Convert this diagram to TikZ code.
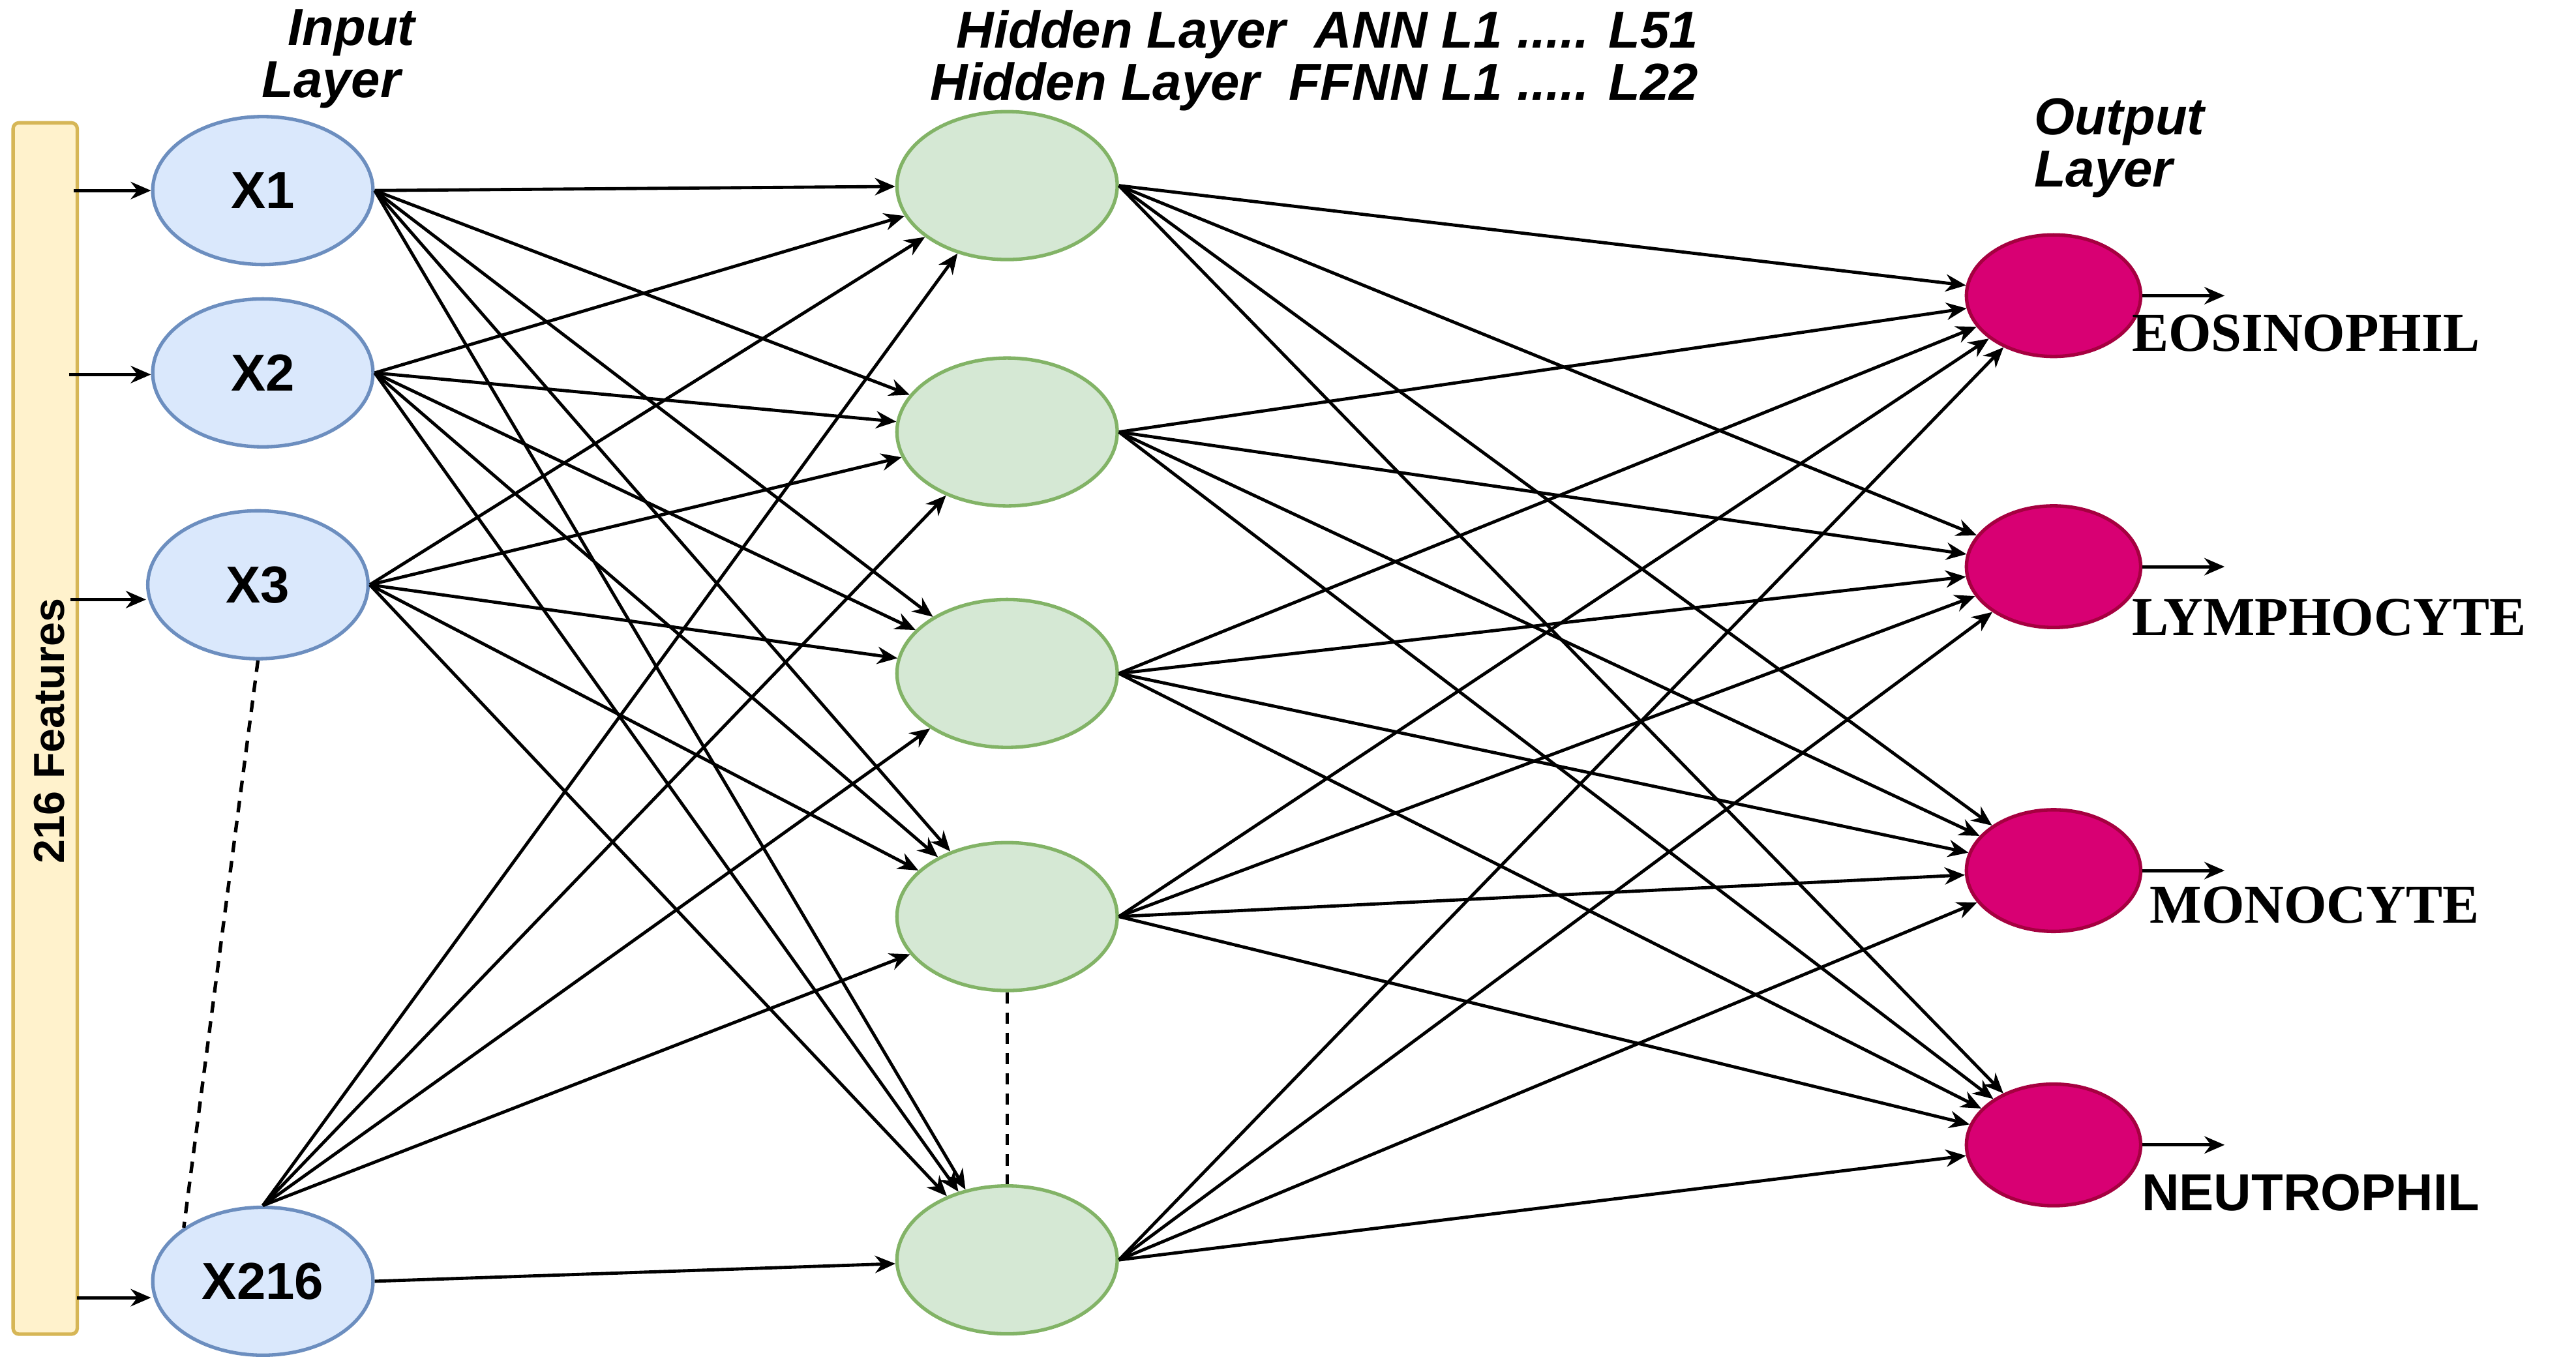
\documentclass[tikz,border=0pt]{standalone}
\usepackage{fontspec}
\setmainfont{Liberation Sans}
\newfontfamily\serifb{Liberation Serif}
\usetikzlibrary{shapes.geometric,arrows.meta}
\definecolor{inF}{HTML}{DAE8FC}\definecolor{inD}{HTML}{6C8EBF}
\definecolor{hF}{HTML}{D5E8D4}\definecolor{hD}{HTML}{82B366}
\definecolor{oF}{HTML}{D80073}\definecolor{oD}{HTML}{A50040}
\definecolor{bF}{HTML}{FFF2CC}\definecolor{bD}{HTML}{D6B656}
\tikzset{
 innode/.style={ellipse,draw=inD,fill=inF,line width=0.6pt,minimum width=1.34cm,minimum height=0.9cm,inner sep=0pt,font=\bfseries\fontsize{9}{10}\selectfont},
 hnode/.style={ellipse,draw=hD,fill=hF,line width=0.6pt,minimum width=1.34cm,minimum height=0.9cm,inner sep=0pt},
 onode/.style={ellipse,draw=oD,fill=oF,line width=0.6pt,minimum width=1.06cm,minimum height=0.74cm,inner sep=0pt},
 conn/.style={-{Stealth[length=3.5pt,width=3pt]},line width=0.55pt},
 ttl/.style={font=\bfseries\itshape\fontsize{9}{9}\selectfont,align=left,inner sep=0pt},
 olab/.style={font=\serifb\bfseries\fontsize{9.5}{11}\selectfont,anchor=west,inner sep=0pt},
}
\begin{document}
\begin{tikzpicture}[x=0.01cm,y=-0.01cm]
\useasboundingbox[fill=white] (0,0) rectangle (1568,834);
\node[draw=bD,fill=bF,line width=0.6pt,minimum width=0.39cm,minimum height=7.37cm,inner sep=0pt,rounded corners=1pt] (bar) at (27.5,443.5) {};
\node[rotate=90,font=\bfseries\fontsize{7.5}{8}\selectfont] (bt) at (30,445) {216 Features};
\node[innode] (i1) at (160,116) {X1};
\node[innode] (i2) at (160,227) {X2};
\node[innode] (i3) at (157,356) {X3};
\node[innode] (i4) at (160,780) {X216};
\coordinate (a1) at (45,116);\coordinate (a2) at (42,228);
\coordinate (a3) at (43,365);\coordinate (a4) at (47,790);
\foreach \k in {1,2,3}{\draw[conn] (a\k) -- (i\k.west|-a\k);}
\draw[conn] (a4) -- (i4.west|-a4);
\draw[dashed,dash pattern=on 2pt off 1.5pt,line width=0.6pt] (i3.south) -- (i4.north west);
\node[hnode] (h1) at (613,113) {};
\node[hnode] (h2) at (613,263) {};
\node[hnode] (h3) at (613,410) {};
\node[hnode] (h4) at (613,558) {};
\node[hnode] (h5) at (613,767) {};
\draw[dashed,dash pattern=on 2pt off 1.5pt,line width=0.6pt] (h4.south) -- (h5.north);
\node[onode] (o1) at (1250,180) {};
\node[onode] (o2) at (1250,345) {};
\node[onode] (o3) at (1250,530) {};
\node[onode] (o4) at (1250,697) {};
\foreach \i in {1,2,3}{\foreach \h in {1,...,5}{\draw[conn] (i\i.east) -- (h\h);}}
\foreach \h in {1,...,4}{\draw[conn] (i4.north) -- (h\h);}
\draw[conn] (i4.east) -- (h5);
\foreach \h in {1,...,5}{\foreach \o in {1,...,4}{\draw[conn] (h\h.east) -- (o\o);}}
\foreach \o in {1,...,4}{\coordinate (e\o) at ([xshift=0.5cm]o\o.east); \draw[conn] (o\o.east) -- (e\o);}
\node[olab] (l1) at (1297,203) {EOSINOPHIL};
\node[olab] (l2) at (1297,376) {LYMPHOCYTE};
\node[olab] (l3) at (1308,551) {MONOCYTE};
\node[olab,font=\bfseries\fontsize{9}{11}\selectfont] (l4) at (1303,726) {NEUTROPHIL};
\node[ttl] (t1) at (206,36) {\hspace*{0.5em}Input\\Layer};
\node[ttl] (t2) at (800,37) {\hspace*{0.5em}Hidden Layer\ \ ANN L1 ..... L51\\Hidden Layer\ \ FFNN L1 ..... L22};
\node[ttl] (t3) at (1290,90) {Output\\Layer};
\end{tikzpicture}
\end{document}
